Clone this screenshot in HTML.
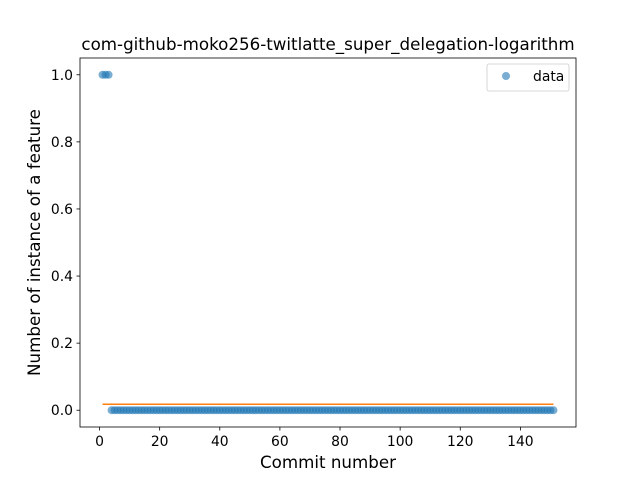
<!DOCTYPE html>
<html><head><meta charset="utf-8"><style>
body{margin:0;background:#fff;font-family:"Liberation Sans","DejaVu Sans",sans-serif;}
</style></head><body>
<svg id="chart" width="640" height="480" xmlns="http://www.w3.org/2000/svg" font-family="DejaVu Sans, Liberation Sans, sans-serif"></svg>
<script>
const highCommits=[1,2,3];
const highValues=[1,1,1];
const zeroStart=4, zeroEnd=151;
const fitLine=[[1,0.018],[151,0.018]];
const xTicks=[0,20,40,60,80,100,120,140];
const yTicks=[0.0,0.2,0.4,0.6,0.8,1.0];
const L=80,R=576,T=58,B=427;
const xmin=-6.5,xmax=158.5,ymin=-0.05,ymax=1.05;
const X=v=>L+(v-xmin)/(xmax-xmin)*(R-L);
const Y=v=>B-(v-ymin)/(ymax-ymin)*(B-T);
const svg=document.getElementById('chart');
const NS='http://www.w3.org/2000/svg';
function mk(tag,attrs,parent){const e=document.createElementNS(NS,tag);for(const k in attrs)e.setAttribute(k,attrs[k]);(parent||svg).appendChild(e);return e;}
const pts=[];
highCommits.forEach((c,i)=>pts.push([c,highValues[i]]));
for(let c=zeroStart;c<=zeroEnd;c++)pts.push([c,0]);
const g=mk('g',{});


pts.forEach(p=>{const c=mk('circle',{cx:X(p[0]),cy:Y(p[1]),r:4,fill:'#1f77b4','fill-opacity':0.6},g);

});
const ln=mk('line',{x1:X(fitLine[0][0]),y1:Y(fitLine[0][1]),x2:X(fitLine[1][0]),y2:Y(fitLine[1][1]),stroke:'#ff7f0e','stroke-width':1.5});


const fr=mk('rect',{x:L,y:T,width:R-L,height:B-T,fill:'none',stroke:'#000','stroke-width':0.8});


xTicks.forEach(t=>{mk('line',{x1:X(t),x2:X(t),y1:B,y2:B+3.5,stroke:'#000','stroke-width':0.8});
const tx=mk('text',{x:X(t),y:B+19,'text-anchor':'middle','font-size':13.9});tx.textContent=t;

});
yTicks.forEach(t=>{mk('line',{x1:L-3.5,x2:L,y1:Y(t),y2:Y(t),stroke:'#000','stroke-width':0.8});
const tx=mk('text',{x:L-7,y:Y(t)+5,'text-anchor':'end','font-size':13.9});tx.textContent=t.toFixed(1);

});
let t=mk('text',{x:(L+R)/2,y:50,'text-anchor':'middle','font-size':16.7});t.textContent='com-github-moko256-twitlatte_super_delegation-logarithm';


t=mk('text',{x:(L+R)/2,y:468,'text-anchor':'middle','font-size':16.7});t.textContent='Commit number';


t=mk('text',{x:40,y:(T+B)/2,'text-anchor':'middle','font-size':16.7,transform:`rotate(-90 40 ${(T+B)/2})`});t.textContent='Number of instance of a feature';


const lg=mk('g',{});


mk('rect',{x:487,y:64,width:82,height:27,rx:2,fill:'#fff',stroke:'#ccc','stroke-width':0.8},lg);
mk('circle',{cx:506,cy:76,r:4,fill:'#1f77b4','fill-opacity':0.6},lg);
t=mk('text',{x:533,y:81,'font-size':13.9},lg);t.textContent='data';


</script>
</body></html>
